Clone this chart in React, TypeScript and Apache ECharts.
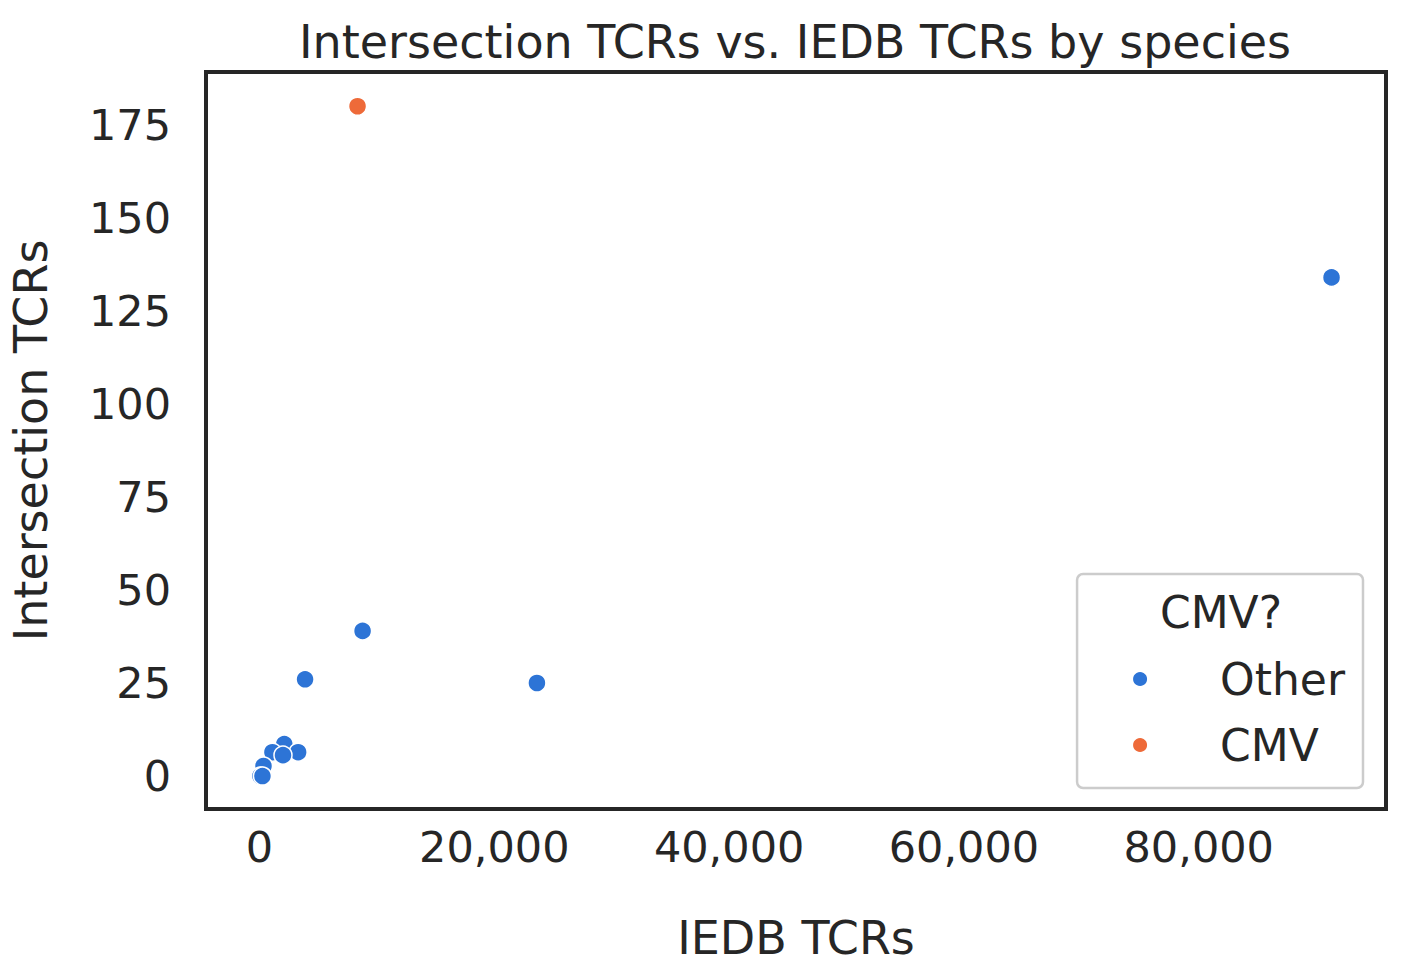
import React, { useRef, useEffect } from 'react'
import * as echarts from 'echarts'

// IEDB TCRs vs intersection TCRs, split by CMV flag
const otherPoints: [number, number][] = [
  [2110, 8.6],
  [1100, 6.4],
  [3290, 6.4],
  [2000, 5.6],
  [340, 2.7],
  [80, 0],
  [250, 0],
  [3880, 26],
  [8780, 39],
  [23630, 25],
  [91310, 134],
]
const cmvPoints: [number, number][] = [[8350, 180]]
const xTicks = [0, 20000, 40000, 60000, 80000]
const yTicks = [0, 25, 50, 75, 100, 125, 150, 175]

const textColor = '#262626'
const font = 'DejaVu Sans'

const App: React.FC = () => {
  const chartRef = useRef<HTMLDivElement>(null)

  useEffect(() => {
    if (!chartRef.current) return
    const chart = echarts.init(chartRef.current, undefined, { renderer: 'svg' })
    const markerStyle = { borderColor: '#ffffff', borderWidth: 1.5, opacity: 1 }
    chart.setOption({
      animation: false,
      backgroundColor: '#ffffff',
      textStyle: { fontFamily: font },
      title: {
        text: 'Intersection TCRs vs. IEDB TCRs by species',
        left: 790,
        textAlign: 'center',
        top: 14,
        textStyle: { fontFamily: font, fontSize: 46, fontWeight: 'normal', color: textColor },
      },
      grid: { left: 195, top: 72, width: 1191, height: 738, show: true, borderColor: textColor, borderWidth: 4, backgroundColor: '#ffffff' },
      xAxis: {
        type: 'value',
        min: -4557,
        max: 95949,
        name: 'IEDB TCRs',
        nameLocation: 'middle',
        nameGap: 106,
        nameTextStyle: { fontFamily: font, fontSize: 46, color: textColor },
        axisLine: { show: false },
        axisTick: { show: false },
        splitLine: { show: false },
        axisLabel: { fontFamily: font, fontSize: 43, color: textColor, margin: 16, customValues: xTicks },
      },
      yAxis: {
        type: 'value',
        min: -8.86,
        max: 189.2,
        name: 'Intersection TCRs',
        nameLocation: 'middle',
        nameGap: 152,
        nameTextStyle: { fontFamily: font, fontSize: 46, color: textColor },
        axisLine: { show: false },
        axisTick: { show: false },
        splitLine: { show: false },
        axisLabel: { fontFamily: font, fontSize: 43, color: textColor, margin: 35, customValues: yTicks },
      },
      legend: {
        orient: 'vertical',
        right: 41,
        top: 574,
        padding: [83, 18, 21, 54],
        itemGap: 22,
        itemWidth: 16,
        itemHeight: 16,
        icon: 'circle',
        backgroundColor: '#ffffff',
        borderColor: '#cccccc',
        borderWidth: 2.5,
        borderRadius: 6,
        textStyle: { fontFamily: font, fontSize: 44, color: textColor, padding: [0, 0, 0, 67] },
        data: ['Other', 'CMV'],
      },
      graphic: [
        {
          type: 'text',
          x: 1221,
          y: 612,
          z: 100,
          style: { text: 'CMV?', fontFamily: font, fontSize: 44, fill: textColor, align: 'center', verticalAlign: 'middle' },
        },
      ],
      series: [
        { name: 'Other', type: 'scatter', symbolSize: 18, data: otherPoints, itemStyle: { color: '#2d74d6', ...markerStyle } },
        { name: 'CMV', type: 'scatter', symbolSize: 18, data: cmvPoints, itemStyle: { color: '#ee6a39', ...markerStyle } },
      ],
    })
    return () => chart.dispose()
  }, [])

  return <div ref={chartRef} style={{ position: 'fixed', left: 0, top: 0, width: 1404, height: 966 }} />
}

export default App
